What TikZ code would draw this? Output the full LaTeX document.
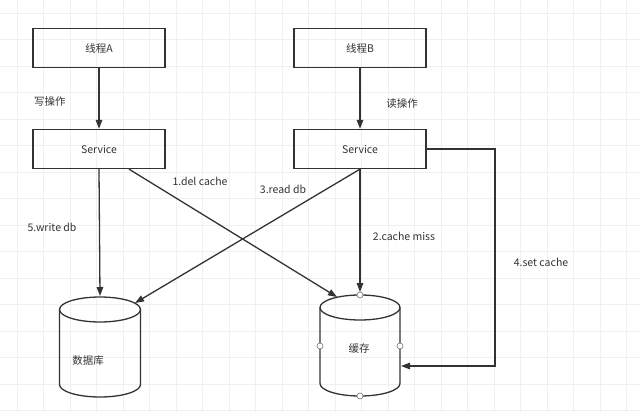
\documentclass[tikz,border=0pt]{standalone}
\usepackage{fontspec}
\setmainfont{Noto Sans CJK SC}
\usetikzlibrary{arrows.meta}
\definecolor{ln}{HTML}{333333}
\definecolor{gridc}{HTML}{F0F0F0}
\begin{document}
\begin{tikzpicture}[x=1pt,y=-1pt,
  box/.style={draw=ln, line width=1.3pt, minimum width=132pt, minimum height=39pt, inner sep=0pt, text=ln, font=\fontsize{10.5}{12}\selectfont},
  lbl/.style={font=\fontsize{10.5}{12}\selectfont, text=ln, inner sep=0pt},
  conn/.style={draw=ln, line width=1.3pt, -{Triangle[length=9pt,width=6.5pt]}},
  cyl/.style={draw=ln, line width=1.3pt},
  handle/.style={circle, draw=ln!70, fill=white, line width=0.6pt, minimum size=6pt, inner sep=0pt}]
\fill[white] (0,0) rectangle (640,412);
\useasboundingbox (0,0) rectangle (640,412);
\foreach \i in {0,...,23} { \draw[gridc, line width=0.6pt] ({17+26.5*\i},0) -- ({17+26.5*\i},412); }
\foreach \j in {0,...,15} { \draw[gridc, line width=0.6pt] (0,{13+26.5*\j}) -- (640,{13+26.5*\j}); }

% boxes
\node[box] (thA) at (99,48) {线程A};
\node[box] (svcA) at (99,149) {Service};
\node[box] (thB) at (360,48) {线程B};
\node[box] (svcB) at (360,149) {Service};

% database cylinder
\draw[cyl] (59.5,309.5) -- (59.5,384.5) arc[start angle=180, end angle=0, x radius=40.5, y radius=12.5] -- (140.5,309.5);
\draw[cyl] (100,309.5) ellipse [x radius=40.5, y radius=12.5];
\node[lbl] (db) at (88,361) {数据库};
\coordinate (dbtop) at (100,296);
\coordinate (dbrim) at (135,303);

% cache cylinder
\draw[cyl] (320,307.5) -- (320,383.5) arc[start angle=180, end angle=0, x radius=40, y radius=12.5] -- (400,307.5);
\draw[cyl] (360,307.5) ellipse [x radius=40, y radius=12.5];
\node[lbl] (cache) at (359,349) {缓存};
\coordinate (ctop) at (360,292);
\coordinate (crim) at (337,297);
\coordinate (cright) at (401,366);
\coordinate (c1) at (495,149);
\coordinate (c2) at (495,366);

% connectors
\draw[conn] (thA) -- (svcA);
\draw[conn] (thB) -- (svcB);
\draw[conn] (svcA.south) -- (dbtop);
\draw[conn] ([xshift=30pt]svcA.south) -- (crim);
\draw[conn] (svcB.south) -- (dbrim);
\draw[conn] (svcB.south) -- (ctop);
\draw[conn] (svcB.east) -- (c1) -- (c2) -- (cright);

% handles
\node[handle] (h1) at (360,295) {};
\node[handle] (h2) at (320,346) {};
\node[handle] (h3) at (400,346) {};
\node[handle] (h4) at (360,396) {};

% labels
\node[lbl] (l0) at (50,102) {写操作};
\node[lbl] (l0b) at (402,104) {读操作};
\node[lbl] (l1) at (200,181) {1.del cache};
\node[lbl] (l3) at (283,189) {3.read db};
\node[lbl] (l2) at (404,236) {2.cache miss};
\node[lbl] (l5) at (52,227) {5.write db};
\node[lbl] (l4) at (541,262) {4.set cache};
\end{tikzpicture}
\end{document}
